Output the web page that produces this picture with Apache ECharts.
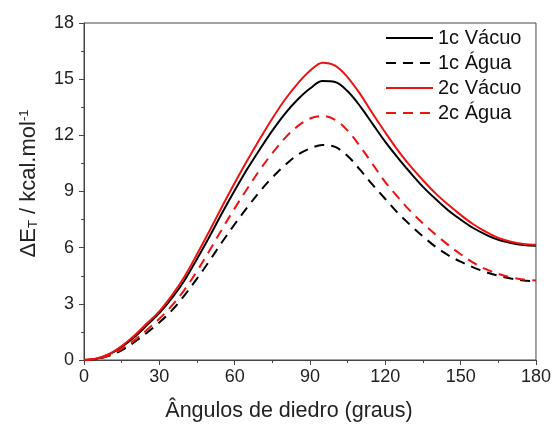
<!DOCTYPE html>
<html>
<head>
<meta charset="utf-8">
<script src="https://cdn.jsdelivr.net/npm/echarts@6/dist/echarts.min.js"></script>
<style>
  html, body { margin: 0; padding: 0; background: #fff; }
  #chart { width: 554px; height: 427px; }
</style>
</head>
<body>
<div id="chart"></div>
<script>
// angulos de diedro (graus)
const angulos = [0, 5, 10, 15, 20, 25, 30, 35, 40, 45, 50, 55, 60, 65, 70, 75, 80, 85, 90,
    95, 100, 105, 110, 115, 120, 125, 130, 135, 140, 145, 150, 155, 160, 165, 170, 175, 180];

const vacuo1c = [0, 0.07, 0.3, 0.7, 1.22, 1.85, 2.5, 3.3, 4.25, 5.4, 6.6, 7.85, 9.05, 10.2, 11.25,
    12.25, 13.15, 13.9, 14.5, 14.9, 14.85, 14.35, 13.55, 12.6, 11.65, 10.8, 10.0, 9.25, 8.6,
    8.0, 7.5, 7.05, 6.7, 6.42, 6.25, 6.14, 6.1];
const agua1c = [0, 0.05, 0.22, 0.52, 0.95, 1.45, 2.0, 2.65, 3.45, 4.35, 5.3, 6.3, 7.25, 8.15, 9.0,
    9.75, 10.4, 10.95, 11.3, 11.48, 11.38, 10.9, 10.15, 9.35, 8.6, 7.85, 7.2, 6.6, 6.05,
    5.6, 5.25, 4.95, 4.7, 4.5, 4.35, 4.25, 4.2];
const vacuo2c = [0, 0.08, 0.32, 0.75, 1.3, 1.95, 2.6, 3.45, 4.45, 5.65, 6.9, 8.2, 9.45, 10.65, 11.8,
    12.9, 13.9, 14.75, 15.45, 15.88, 15.72, 15.1, 14.2, 13.15, 12.15, 11.2, 10.35, 9.6, 8.9,
    8.3, 7.75, 7.25, 6.85, 6.52, 6.32, 6.2, 6.15];
const agua2c = [0, 0.06, 0.25, 0.6, 1.05, 1.6, 2.2, 2.9, 3.75, 4.75, 5.85, 7.0, 8.1, 9.15, 10.15,
    11.05, 11.85, 12.48, 12.9, 13.03, 12.83, 12.25, 11.4, 10.45, 9.5, 8.7, 7.95, 7.3, 6.7,
    6.15, 5.65, 5.2, 4.85, 4.6, 4.42, 4.3, 4.25];

const nomes = ['1c Vácuo', '1c Água', '2c Vácuo', '2c Água'];
const xTicks = [0, 180, 30];  // min, max, intervalo
const yTicks = [0, 18, 3];

const fonte = '"Liberation Sans", Arial, sans-serif';
const corEixo = '#444';

function par(dados) {
    return angulos.map((a, i) => [a, dados[i]]);
}

function serie(nome, dados, cor, tracejado) {
    return {
        name: nome,
        type: 'line',
        data: par(dados),
        smooth: 0.35,
        symbol: 'none',
        lineStyle: { color: cor, width: 2, type: tracejado ? [10, 7] : 'solid' },
        itemStyle: { color: cor }
    };
}

const myChart = echarts.init(document.getElementById('chart'));

const option = {
    backgroundColor: '#fff',
    animation: false,
    grid: {
        left: 84, right: 17, top: 23, bottom: 67,
        show: true, borderColor: corEixo, borderWidth: 1
    },
    legend: {
        orient: 'vertical',
        left: 385, top: 28, padding: 0,
        itemWidth: 47, itemHeight: 14, itemGap: 5,
        itemStyle: { opacity: 0 },
        textStyle: { fontFamily: fonte, fontSize: 20, color: '#111' },
        data: nomes
    },
    xAxis: {
        type: 'value',
        min: xTicks[0], max: xTicks[1], interval: xTicks[2],
        name: 'Ângulos de diedro (graus)',
        nameLocation: 'middle', nameGap: 40,
        nameTextStyle: { fontFamily: fonte, fontSize: 21.5, color: '#222', padding: [0, 42, 0, 0] },
        axisLine: { lineStyle: { color: corEixo, width: 1 } },
        axisTick: { length: 5, lineStyle: { color: corEixo } },
        minorTick: { show: true, splitNumber: 2, length: 3, lineStyle: { color: corEixo } },
        axisLabel: { fontFamily: fonte, fontSize: 18, color: '#222', margin: 8 },
        splitLine: { show: false }
    },
    yAxis: {
        type: 'value',
        min: yTicks[0], max: yTicks[1], interval: yTicks[2],
        name: '{a|ΔE}{sub|T}{a| / kcal.mol}{sup|-1}',
        nameLocation: 'middle', nameGap: 44,
        nameTextStyle: {
            fontFamily: fonte, fontSize: 22, color: '#222', padding: [0, 0, 0, 16],
            rich: {
                a: { fontFamily: fonte, fontSize: 22, color: '#222' },
                sub: { fontFamily: fonte, fontSize: 13, color: '#222', verticalAlign: 'bottom', padding: [9, 0, 0, 0] },
                sup: { fontFamily: fonte, fontSize: 13, color: '#222', verticalAlign: 'top', padding: [0, 0, 9, 0] }
            }
        },
        axisLine: { lineStyle: { color: corEixo, width: 1 } },
        axisTick: { length: 5, lineStyle: { color: corEixo } },
        minorTick: { show: true, splitNumber: 2, length: 3, lineStyle: { color: corEixo } },
        axisLabel: { fontFamily: fonte, fontSize: 18, color: '#222', margin: 10 },
        splitLine: { show: false }
    },
    series: [
        serie(nomes[0], vacuo1c, '#000000', false),
        serie(nomes[1], agua1c, '#000000', true),
        serie(nomes[2], vacuo2c, '#ee1111', false),
        serie(nomes[3], agua2c, '#ee1111', true)
    ]
};

myChart.setOption(option);
</script>
</body>
</html>
